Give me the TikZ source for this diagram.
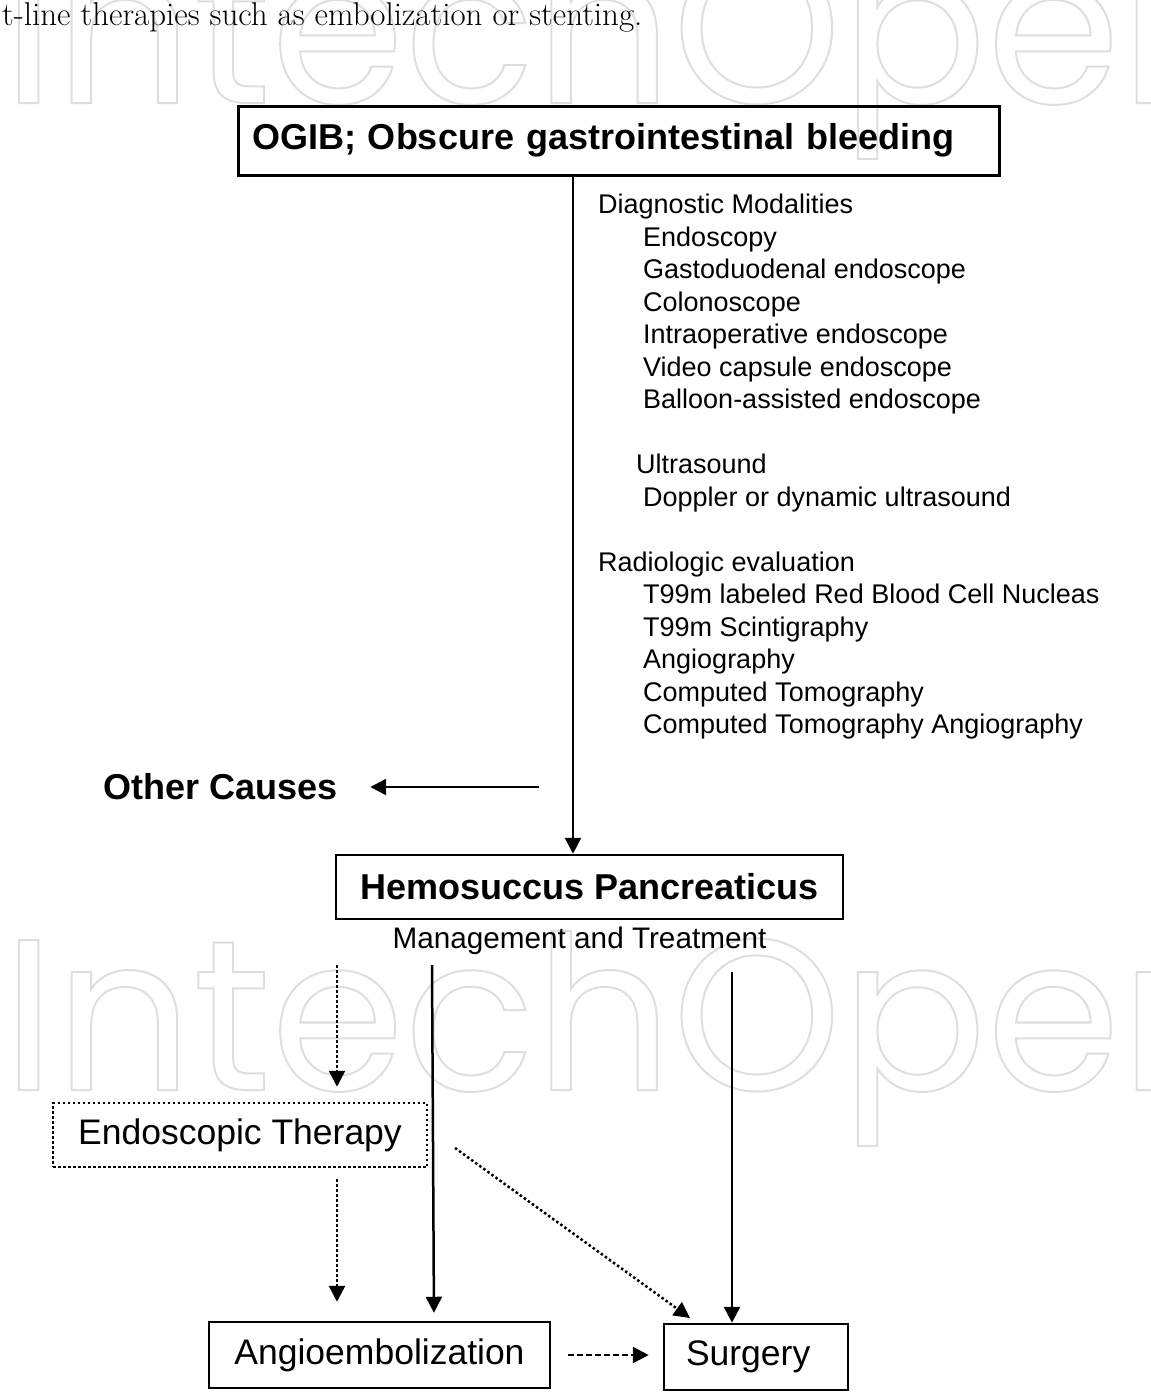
\documentclass[tikz,border=0pt]{standalone}
\usepackage{fontspec}
\newfontfamily\arial{Liberation Sans}
\newfontfamily\wmfont{Poppins}
\usetikzlibrary{arrows.meta,positioning}
\definecolor{wmgrau}{RGB}{222,222,222}

\begin{document}
\begin{tikzpicture}[x=1pt,y=-1pt,font=\arial]
\tikzset{
    %Define standard arrow tip
    >={Triangle[length=16pt,width=16pt]},
    %Define style for boxes
    boks/.style={
           rectangle,
           draw=black, line width=2.5pt,
           inner sep=0pt,
           font=\arial\fontsize{35.5}{42}\selectfont,
           },
    fett/.style={
           font=\arial\bfseries\fontsize{36}{43}\selectfont,
           },
    liste/.style={
           align=left,
           inner sep=0pt,
           font=\arial\fontsize{27}{32.5}\selectfont,
           },
    % Define arrow style
    pil/.style={
           ->,
           line width=2.5pt,
           },
    prikk/.style={
           ->,
           line width=2.5pt,
           dash pattern=on 2.5pt off 2.5pt,
           },
    wm/.style={
           inner sep=0pt,
           anchor=base west,
           text=wmgrau,
           font=\wmfont\fontsize{215}{215}\selectfont,
           }
}
	\useasboundingbox (0,0) rectangle (1151,1395);
 %watermark (outlined letters)
	\node[wm] (wmtop) at (2,103) {\special{pdf:literal 1 Tr 2 w}IntechOpen\special{pdf:literal 0 Tr}};
	\node[wm] (wmbot) at (2,1090) {\special{pdf:literal 1 Tr 2 w}IntechOpen\special{pdf:literal 0 Tr}};

	\node[inner sep=0pt,anchor=base west,font=\rmfamily\fontsize{33}{36}\selectfont] (satz) at (2,25) {t-line therapies such as embolization or stenting.};

 %nodes
	\node[boks,fett,line width=3pt,minimum width=761pt,minimum height=69pt,text width=733pt,align=left] (ogib) at (618.5,140.5) {OGIB; Obscure gastrointestinal bleeding};

	\node[liste,anchor=north west] (modal) at (598,194) {Diagnostic Modalities\\
	\hspace*{45pt}Endoscopy\\
	\hspace*{45pt}Gastoduodenal endoscope\\
	\hspace*{45pt}Colonoscope\\
	\hspace*{45pt}Intraoperative endoscope\\
	\hspace*{45pt}Video capsule endoscope\\
	\hspace*{45pt}Balloon-assisted endoscope\\[32.5pt]
	\hspace*{38pt}Ultrasound\\
	\hspace*{45pt}Doppler or dynamic ultrasound\\[32.5pt]
	Radiologic evaluation\\
	\hspace*{45pt}T99m labeled Red Blood Cell Nucleas\\
	\hspace*{45pt}T99m Scintigraphy\\
	\hspace*{45pt}Angiography\\
	\hspace*{45pt}Computed Tomography\\
	\hspace*{45pt}Computed Tomography Angiography};

	\node[fett,inner sep=0pt] (other) at (221,787) {Other Causes};

	\node[boks,fett,minimum width=507pt,minimum height=64pt] (hemo) at (589.5,887) {Hemosuccus Pancreaticus};

	\node[inner sep=0pt,font=\arial\fontsize{29.7}{34}\selectfont] (mgmt) at (579.5,941) {Management and Treatment};

	\node[boks,dash pattern=on 2.5pt off 2.5pt,minimum width=374pt,minimum height=64pt] (endo) at (240,1135) {Endoscopic Therapy};

	\node[boks,minimum width=341pt,minimum height=66pt] (angio) at (379.5,1355) {Angioembolization};

	\node[boks,minimum width=184pt,minimum height=66pt,text width=140pt,align=left] (surg) at (756,1357) {Surgery};

 %free ends
	\coordinate (stamm) at (573,0);
	\coordinate (ocstart) at (539,787);
	\coordinate (mlinks) at (337,965);
	\coordinate (mmitte) at (432,965);
	\coordinate (mmitteB) at (434,0);
	\coordinate (mrechts) at (732,972);
	\coordinate (diagA) at (455,1148);
	\coordinate (diagB) at (690,1318);

	\draw[pil] (ogib.south -| stamm) -- (hemo.north -| stamm);
	\draw[pil,shorten >=32pt] (ocstart) -- (other);
	\draw[prikk,shorten >=15pt] (mlinks) -- (endo.north -| mlinks);
	\draw[pil,shorten >=8pt] (mmitte) -- (angio.north -| mmitteB);
	\draw[pil] (mrechts) -- (surg.north -| mrechts);
	\draw[prikk,shorten <=11pt,shorten >=19pt] (endo.south -| mlinks) -- (angio.north -| mlinks);
	\draw[prikk] (diagA) -- (diagB);
	\draw[pil,dash pattern=on 6pt off 3pt,shorten <=17pt,shorten >=14pt] (angio.east) -- (surg.west |- angio.east);

\end{tikzpicture}
\end{document}
